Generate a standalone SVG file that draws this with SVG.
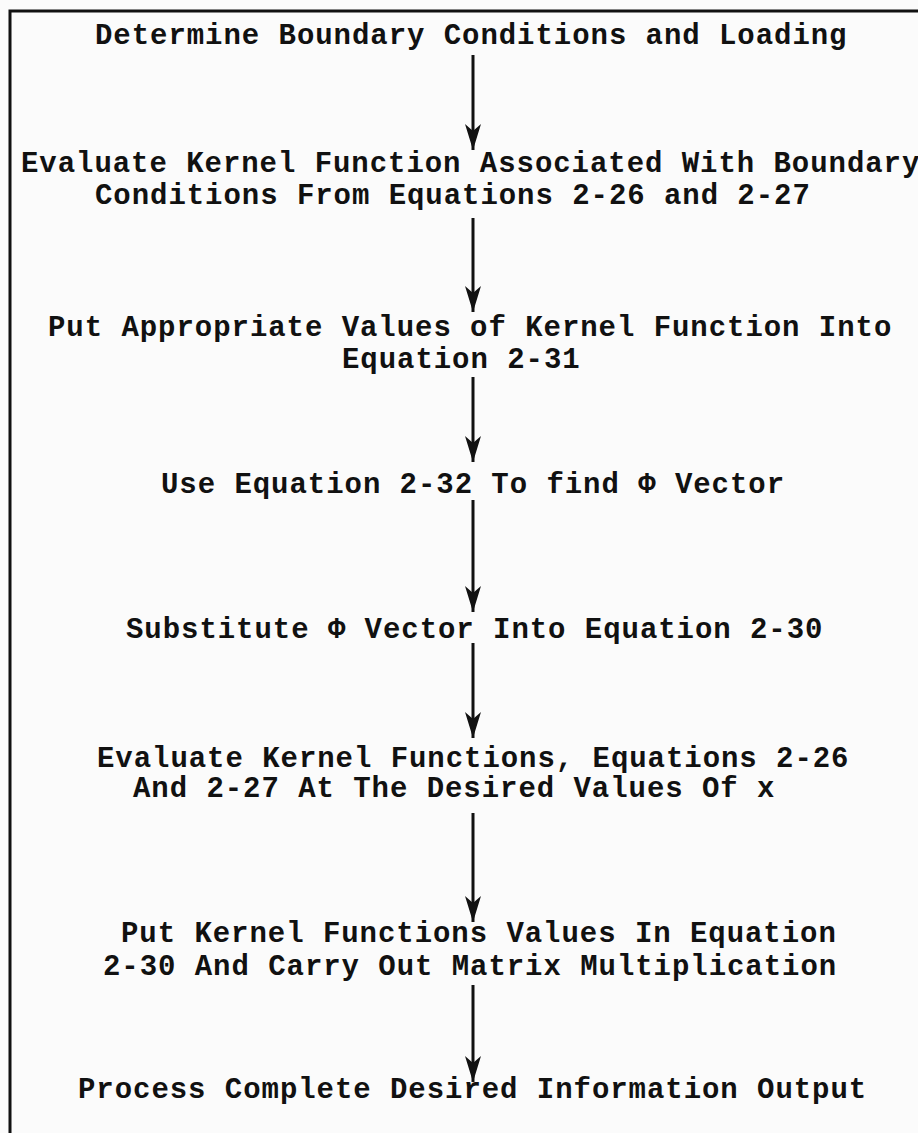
<svg xmlns="http://www.w3.org/2000/svg" width="918" height="1133" viewBox="0 0 918 1133">
  <style>
    .t { font-family: "Liberation Mono", "DejaVu Sans Mono", monospace; font-weight: bold; font-size: 29px; letter-spacing: 0.95px; fill: #111; }
    .c { stroke: #111; stroke-width: 3; fill: none; }
  </style>
  <defs>
    <marker id="ah" markerUnits="userSpaceOnUse" markerWidth="30" markerHeight="20" viewBox="-28 -10 30 20" refX="0" refY="0" orient="auto">
      <path d="M0,0 L-26,-8 L-19,0 L-26,8 Z" fill="#111"/>
    </marker>
  </defs>
  <rect width="918" height="1133" fill="#fbfbfb"/>
  <path d="M10,1133 V11 H918" stroke="#111" stroke-width="3" fill="none"/>

  <g id="n1"><text class="t" x="95" y="44">Determine Boundary Conditions and Loading</text></g>
  <g id="n2">
    <text class="t" x="21" y="172">Evaluate Kernel Function Associated With Boundary</text>
    <text class="t" x="95" y="204">Conditions From Equations 2-26 and 2-27</text>
  </g>
  <g id="n3">
    <text class="t" x="48" y="336">Put Appropriate Values of Kernel Function Into</text>
    <text class="t" x="342" y="368">Equation 2-31</text>
  </g>
  <g id="n4"><text class="t" x="161" y="493">Use Equation 2-32 To find Φ Vector</text></g>
  <g id="n5"><text class="t" x="126" y="638">Substitute Φ Vector Into Equation 2-30</text></g>
  <g id="n6">
    <text class="t" x="97" y="767">Evaluate Kernel Functions, Equations 2-26</text>
    <text class="t" x="133" y="797">And 2-27 At The Desired Values Of x</text>
  </g>
  <g id="n7">
    <text class="t" x="121" y="942">Put Kernel Functions Values In Equation</text>
    <text class="t" x="103" y="975">2-30 And Carry Out Matrix Multiplication</text>
  </g>
  <g id="n8"><text class="t" x="78" y="1098">Process Complete Desired Information Output</text></g>

  <g id="connectors">
    <line class="c" x1="473" y1="55" x2="473" y2="150" marker-end="url(#ah)"/>
    <line class="c" x1="473" y1="218" x2="473" y2="312" marker-end="url(#ah)"/>
    <line class="c" x1="473" y1="377" x2="473" y2="462" marker-end="url(#ah)"/>
    <line class="c" x1="473" y1="500" x2="473" y2="612" marker-end="url(#ah)"/>
    <line class="c" x1="473" y1="643" x2="473" y2="738" marker-end="url(#ah)"/>
    <line class="c" x1="473" y1="813" x2="473" y2="922" marker-end="url(#ah)"/>
    <line class="c" x1="473" y1="985" x2="473" y2="1082" marker-end="url(#ah)"/>
  </g>
</svg>
